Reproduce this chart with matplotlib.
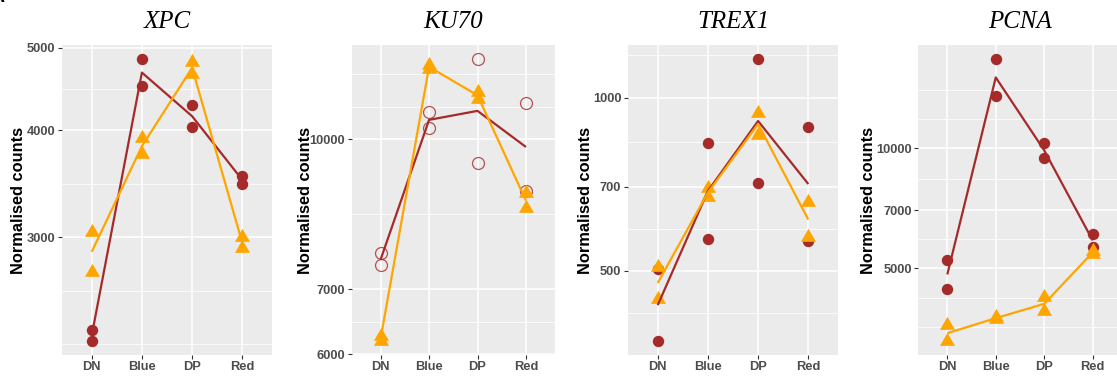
import numpy as np
import matplotlib
matplotlib.use("Agg")
import matplotlib.pyplot as plt
from matplotlib.path import Path
from matplotlib.ticker import FixedLocator, NullFormatter

categories = ["DN", "Blue", "DP", "Red"]

# Replicate normalised counts per category (two replicates each)
xpc_circle = [[2337, 2271], [4847, 4508], [4279, 4038], [3543, 3462]]
xpc_triangle = [[3046, 2735], [3917, 3753], [4812, 4659], [3000, 2913]]
xpc_ticks = [3000, 4000, 5000]

ku70_circle = [[7624, 7413], [10665, 10280], [12096, 9459], [10901, 8842]]
ku70_triangle = [[6270, 6195], [11935, 11814], [11200, 11000], [8807, 8484]]
ku70_ticks = [6000, 7000, 10000]

trex1_circle = [[503, 378], [835, 567], [1166, 711], [888, 564]]
trex1_triangle = [[508, 447], [697, 671], [940, 861], [659, 572]]
trex1_ticks = [500, 700, 1000]

pcna_circle = [[5237, 4453], [16692, 13515], [10318, 9436], [6088, 5668]]
pcna_triangle = [[3600, 3294], [3770, 3740], [4242, 3921], [5528, 5442]]
pcna_ticks = [5000, 7000, 10000]

genes = ["XPC", "KU70", "TREX1", "PCNA"]
circle_sets = [xpc_circle, ku70_circle, trex1_circle, pcna_circle]
triangle_sets = [xpc_triangle, ku70_triangle, trex1_triangle, pcna_triangle]
tick_sets = [xpc_ticks, ku70_ticks, trex1_ticks, pcna_ticks]
open_circles = [False, True, False, False]

BROWN = "#A52A2A"
ORANGE = "#FFA500"
PANEL_BG = "#EBEBEB"

W, H = 1117, 376
# panel boxes in pixels: (left, right), shared top/bottom
panel_x = [(61.6, 272.4), (351.6, 555.0), (627.6, 838.4), (918.2, 1121.8)]
panel_top, panel_bottom = 45.0, 355.0
ylabel_x = [18.3, 305.0, 585.0, 868.3]

# triangle centred on its centroid
tri_path = Path([(0, 1.1547), (-1, -0.57735), (1, -0.57735), (0, 1.1547)],
                [Path.MOVETO, Path.LINETO, Path.LINETO, Path.CLOSEPOLY])

sans = "Liberation Sans"
serif = "Liberation Serif"


def minor_breaks(major, lo, hi):
    """Minor breaks halfway between majors in log10 space, extended to limits."""
    b = list(np.log10(major))
    bd = b[1] - b[0]
    if lo < b[0]:
        b = [b[0] - bd] + b
    if hi > b[-1]:
        b = b + [b[-1] + bd]
    out = []
    for a, c in zip(b[:-1], b[1:]):
        out += [a, (a + c) / 2]
    out.append(b[-1])
    return [10 ** v for v in out if lo <= v <= hi]


fig = plt.figure(figsize=(W / 100, H / 100), dpi=100)
x = np.arange(len(categories))

for i, gene in enumerate(genes):
    l, r = panel_x[i]
    ax = fig.add_axes([l / W, (H - panel_bottom) / H, (r - l) / W,
                       (panel_bottom - panel_top) / H])
    ax.set_facecolor(PANEL_BG)
    ax.set_yscale("log")

    circ = np.array(circle_sets[i], dtype=float)
    tri = np.array(triangle_sets[i], dtype=float)
    logs = np.log10(np.concatenate([circ.ravel(), tri.ravel()]))
    lo, hi = logs.min(), logs.max()
    pad = 0.05 * (hi - lo)
    lo, hi = lo - pad, hi + pad
    ax.set_ylim(10 ** lo, 10 ** hi)
    ax.set_xlim(-0.6, len(categories) - 1 + 0.6)

    # grid
    ax.yaxis.set_major_locator(FixedLocator(tick_sets[i]))
    ax.yaxis.set_minor_locator(FixedLocator(minor_breaks(tick_sets[i], lo, hi)))
    ax.yaxis.set_minor_formatter(NullFormatter())
    ax.set_yticklabels([str(t) for t in tick_sets[i]])
    ax.set_xticks(x)
    ax.set_xticklabels(categories)
    ax.grid(which="major", color="white", linewidth=1.1)
    ax.grid(which="minor", axis="y", color="white", linewidth=0.55)
    ax.set_axisbelow(True)
    for s in ax.spines.values():
        s.set_visible(False)

    ax.tick_params(which="major", length=3, width=0.8, color="#333333",
                   labelcolor="#4D4D4D", labelsize=9.3, pad=1.5)
    ax.tick_params(which="minor", length=0)
    for lab in ax.get_xticklabels() + ax.get_yticklabels():
        lab.set_fontfamily(sans)
        lab.set_fontweight("bold")

    # replicate points
    for j in range(len(categories)):
        if open_circles[i]:
            ax.plot([x[j]] * circ.shape[1], circ[j], "o", ms=8.6,
                    mfc="none", mec=BROWN, mew=0.9, alpha=0.8, zorder=3)
        else:
            ax.plot([x[j]] * circ.shape[1], circ[j], "o", ms=8.2,
                    color=BROWN, mew=0, zorder=3)
    for j in range(len(categories)):
        ax.plot([x[j]] * tri.shape[1], tri[j], marker=tri_path, ls="none",
                ms=12.5, color=ORANGE, mew=0, zorder=4)

    # group means on the log scale
    circ_mean = 10 ** np.log10(circ).mean(axis=1)
    tri_mean = 10 ** np.log10(tri).mean(axis=1)
    ax.plot(x, circ_mean, color=BROWN, lw=1.6, zorder=5,
            solid_capstyle="butt")
    ax.plot(x, tri_mean, color=ORANGE, lw=1.6, zorder=6,
            solid_capstyle="butt")

    # title and y label
    fig.text((l + r) / 2 / W, 1 - 28.3 / H, gene, ha="center", va="baseline",
             family=serif, style="italic", fontsize=18)
    fig.text(ylabel_x[i] / W, 1 - 200 / H, "Normalised counts", rotation=90,
             ha="center", va="center", family=sans, fontweight="bold",
             fontsize=11.8, color="black")

# panel letter at the corner
fig.text(5 / W, 1 - 2 / H, "A", ha="right", va="baseline", family=sans,
         fontweight="bold", fontsize=14)

fig.savefig("out.png", dpi=100)
